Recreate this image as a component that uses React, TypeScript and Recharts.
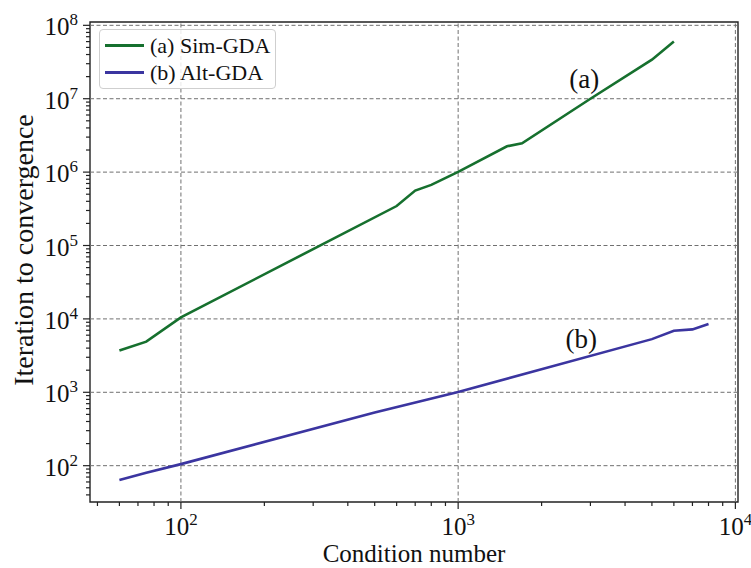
import {
  Legend,
  Line,
  LineChart,
  ReferenceArea,
  ReferenceDot,
  ReferenceLine,
  XAxis,
  YAxis,
} from 'recharts';

// condition number vs iterations
const simX = [60, 75, 100, 600, 700, 800, 1000, 1500, 1700, 3000, 5000, 6000];
const simY = [3700, 4900, 10500, 345000, 560000, 670000, 1010000, 2250000, 2470000, 10000000, 34000000, 60000000];

const altX = [60, 75, 100, 500, 1000, 5000, 6000, 7000, 8000];
const altY = [64, 80, 105, 530, 1010, 5300, 6900, 7200, 8500];

const xMajor = [100, 1000, 10000];
const yMajor = [1e2, 1e3, 1e4, 1e5, 1e6, 1e7, 1e8];
const xDecades = [10, 100, 1000, 10000];
const yDecades = [10, 100, 1e3, 1e4, 1e5, 1e6, 1e7, 1e8];

const X_DOMAIN: [number, number] = [47, 10220];
const Y_DOMAIN: [number, number] = [32, 1.11e8];

const FONT = '"Liberation Serif", "DejaVu Serif", serif';
const AXIS = '#222';
const GRID = '#707070';

// 1..9 x each decade, kept inside the axis range
function logTicks(decades: number[], [lo, hi]: [number, number]) {
  const out: number[] = [];
  decades.forEach((d) => {
    for (let m = 1; m <= 9; m++) {
      const v = d * m;
      if (v >= lo && v <= hi) out.push(v);
    }
  });
  return out;
}

const xTicks = logTicks(xDecades, X_DOMAIN);
const yTicks = logTicks(yDecades, Y_DOMAIN);

const toPoints = (xs: number[], ys: number[]) => xs.map((x, i) => ({ x, y: ys[i] }));

const SERIES = [
  { key: 'sim', name: '(a) Sim-GDA', color: '#16702e', data: toPoints(simX, simY) },
  { key: 'alt', name: '(b) Alt-GDA', color: '#3b35a0', data: toPoints(altX, altY) },
];

function exponentOf(v: number) {
  const e = Math.round(Math.log10(v));
  return Math.abs(Math.log10(v) - e) < 1e-9 ? e : null;
}

function XTick(props: any) {
  const { x, y, payload } = props;
  const e = exponentOf(payload.value);
  return (
    <g>
      <line x1={x} x2={x} y1={y} y2={y + (e !== null ? 7 : 4)} stroke={AXIS} strokeWidth={1.2} />
      {e !== null && (
        <text x={x} y={y + 33} textAnchor="middle" fontFamily={FONT} fontSize={25} fill="#111">
          10<tspan dy={-10} fontSize={17}>{e}</tspan>
        </text>
      )}
    </g>
  );
}

function YTick(props: any) {
  const { x, y, payload } = props;
  const e = exponentOf(payload.value);
  return (
    <g>
      <line x1={x - (e !== null ? 7 : 4)} x2={x} y1={y} y2={y} stroke={AXIS} strokeWidth={1.2} />
      {e !== null && (
        <text x={x - 12} y={y + 10} textAnchor="end" fontFamily={FONT} fontSize={25} fill="#111">
          10<tspan dy={-10} fontSize={17}>{e}</tspan>
        </text>
      )}
    </g>
  );
}

const xTitle = (props: any) => {
  const vb = props.viewBox ?? { x: 90, y: 502, width: 648, height: 66 };
  return (
    <text x={vb.x + vb.width / 2} y={vb.y + 60} textAnchor="middle" fontFamily={FONT} fontSize={25} fill="#111">
      Condition number
    </text>
  );
};

const yTitle = (props: any) => {
  const vb = props.viewBox ?? { x: 0, y: 22, width: 90, height: 480 };
  const cx = vb.x + 23;
  const cy = vb.y + vb.height / 2 - 12;
  return (
    <text
      x={cx}
      y={cy}
      transform={`rotate(-90 ${cx} ${cy})`}
      textAnchor="middle"
      dominantBaseline="central"
      fontFamily={FONT}
      fontSize={28}
      fill="#111"
    >
      Iteration to convergence
    </text>
  );
};

const renderLegend = () => (
  <div
    style={{
      width: 177,
      boxSizing: 'border-box',
      padding: '2px 6px 2px 5px',
      border: '1px solid #cfcfcf',
      borderRadius: 4,
      background: 'rgba(255,255,255,0.85)',
      fontFamily: FONT,
      fontSize: 22,
      color: '#111',
    }}
  >
    {SERIES.map((s) => (
      <div key={s.key} style={{ display: 'flex', alignItems: 'center', height: 27 }}>
        <span style={{ width: 39, height: 3, background: s.color, marginRight: 6, flex: 'none' }} />
        <span style={{ whiteSpace: 'nowrap' }}>{s.name}</span>
      </div>
    ))}
  </div>
);

export default function App() {
  return (
    <div style={{ position: 'absolute', left: 0, top: 0, background: '#fff' }}>
      <LineChart width={751} height={568} margin={{ top: 22, right: 13, bottom: 0, left: 0 }}>
        <XAxis
          type="number"
          dataKey="x"
          scale="log"
          domain={X_DOMAIN}
          allowDataOverflow
          ticks={xTicks}
          interval={0}
          tick={<XTick />}
          tickLine={false}
          axisLine={false}
          tickSize={0}
          tickMargin={0}
          height={66}
          label={{ content: xTitle }}
        />
        <YAxis
          type="number"
          dataKey="y"
          scale="log"
          domain={Y_DOMAIN}
          allowDataOverflow
          ticks={yTicks}
          interval={0}
          tick={<YTick />}
          tickLine={false}
          axisLine={false}
          tickSize={0}
          tickMargin={0}
          width={90}
          label={{ content: yTitle }}
        />
        {xMajor.map((v) => (
          <ReferenceLine key={`vx-${v}`} x={v} stroke={GRID} strokeDasharray="4 2.5" strokeWidth={1} />
        ))}
        {yMajor.map((v) => (
          <ReferenceLine key={`hy-${v}`} y={v} stroke={GRID} strokeDasharray="4 2.5" strokeWidth={1} />
        ))}
        <ReferenceArea
          x1={X_DOMAIN[0]}
          x2={X_DOMAIN[1]}
          y1={Y_DOMAIN[0]}
          y2={Y_DOMAIN[1]}
          fill="none"
          stroke={AXIS}
          strokeWidth={1.4}
          ifOverflow="visible"
        />
        {SERIES.map((s) => (
          <Line
            key={s.key}
            data={s.data}
            dataKey="y"
            name={s.name}
            stroke={s.color}
            strokeWidth={2.6}
            dot={false}
            activeDot={false}
            isAnimationActive={false}
          />
        ))}
        <ReferenceDot
          x={2850}
          y={1.9e7}
          r={0}
          fill="none"
          stroke="none"
          label={{ value: '(a)', position: 'center', fontFamily: FONT, fontSize: 27, fill: '#111' }}
        />
        <ReferenceDot
          x={2780}
          y={5500}
          r={0}
          fill="none"
          stroke="none"
          label={{ value: '(b)', position: 'center', fontFamily: FONT, fontSize: 27, fill: '#111' }}
        />
        <Legend
          layout="vertical"
          align="center"
          verticalAlign="middle"
          content={renderLegend}
          wrapperStyle={{ left: 99, top: 29, width: 177 }}
        />
      </LineChart>
    </div>
  );
}
